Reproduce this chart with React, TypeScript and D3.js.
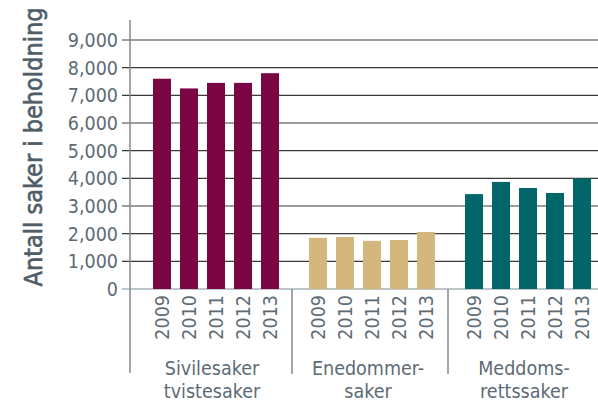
import React from "react";
import * as d3 from "d3";

const groups = ["Sivilesaker\ntvistesaker", "Enedommer-\nsaker", "Meddoms-\nrettssaker"];
const years = ["2009", "2010", "2011", "2012", "2013"];
const sivile = [7600, 7250, 7450, 7450, 7800];
const enedommer = [1850, 1880, 1740, 1770, 2060];
const meddoms = [3430, 3870, 3650, 3470, 4000];
const seriesValues = [sivile, enedommer, meddoms];
const colors = ["#7a0644", "#d4b77c", "#00666a"];
const yTicks = [0, 1000, 2000, 3000, 4000, 5000, 6000, 7000, 8000, 9000];
const yTitle = "Antall saker i beholdning";

const W = 598, H = 405;
const axisX = 130;
const font = "'DejaVu Sans Condensed', 'DejaVu Sans', sans-serif";
const textColor = "#5d6b75";

export default function App() {
  const y = d3.scaleLinear().domain([0, 9000]).range([289, 40]);
  const outer = d3.scaleBand().domain(groups).range([138, 606]).paddingInner(0);
  const inner = d3.scaleBand().domain(years).range([0, outer.bandwidth()]).paddingInner(0.333).paddingOuter(0.555);
  const fmt = d3.format(",");
  return (
    <svg width={W} height={H} style={{ position: "absolute", left: 0, top: 0, fontFamily: font, fontStretch: "condensed" }}>
      {yTicks.map((t) => (
        <g key={t}>
          <line x1={122} x2={W} y1={y(t)} y2={y(t)} stroke={t === 0 ? "#7f8b93" : "#3a3a3a"} strokeWidth={1.2} />
          <text x={118} y={y(t)} dy="0.36em" textAnchor="end" fontSize={19.5} fill={textColor}>{fmt(t)}</text>
        </g>
      ))}
      {groups.map((g, gi) => (
        <g key={g} transform={`translate(${outer(g)},0)`}>
          {years.map((yr, i) => (
            <rect key={yr} x={inner(yr)} width={inner.bandwidth()} y={y(seriesValues[gi][i])} height={y(0) - y(seriesValues[gi][i])} fill={colors[gi]} />
          ))}
          {years.map((yr) => (
            <text key={yr} transform={`translate(${(inner(yr) as number) + inner.bandwidth() / 2},295) rotate(-90)`} dy="0.36em" textAnchor="end" fontSize={19.5} fill={textColor}>{yr}</text>
          ))}
          {g.split("\n").map((line, li) => (
            <text key={li} x={outer.bandwidth() / 2 - 4} y={375 + li * 23} textAnchor="middle" fontSize={19.5} fill={textColor}>{line}</text>
          ))}
        </g>
      ))}
      {groups.slice(1).map((g) => (
        <line key={g} x1={(outer(g) as number) - 2} x2={(outer(g) as number) - 2} y1={289} y2={374} stroke="#7f8b93" strokeWidth={1.5} />
      ))}
      <line x1={axisX} x2={axisX} y1={20} y2={373} stroke="#7f8b93" strokeWidth={1.5} />
      <text transform={`translate(42,147) rotate(-90)`} textAnchor="middle" fontSize={25} fill="#4e5d67" stroke="#4e5d67" strokeWidth={0.6}>{yTitle}</text>
    </svg>
  );
}
